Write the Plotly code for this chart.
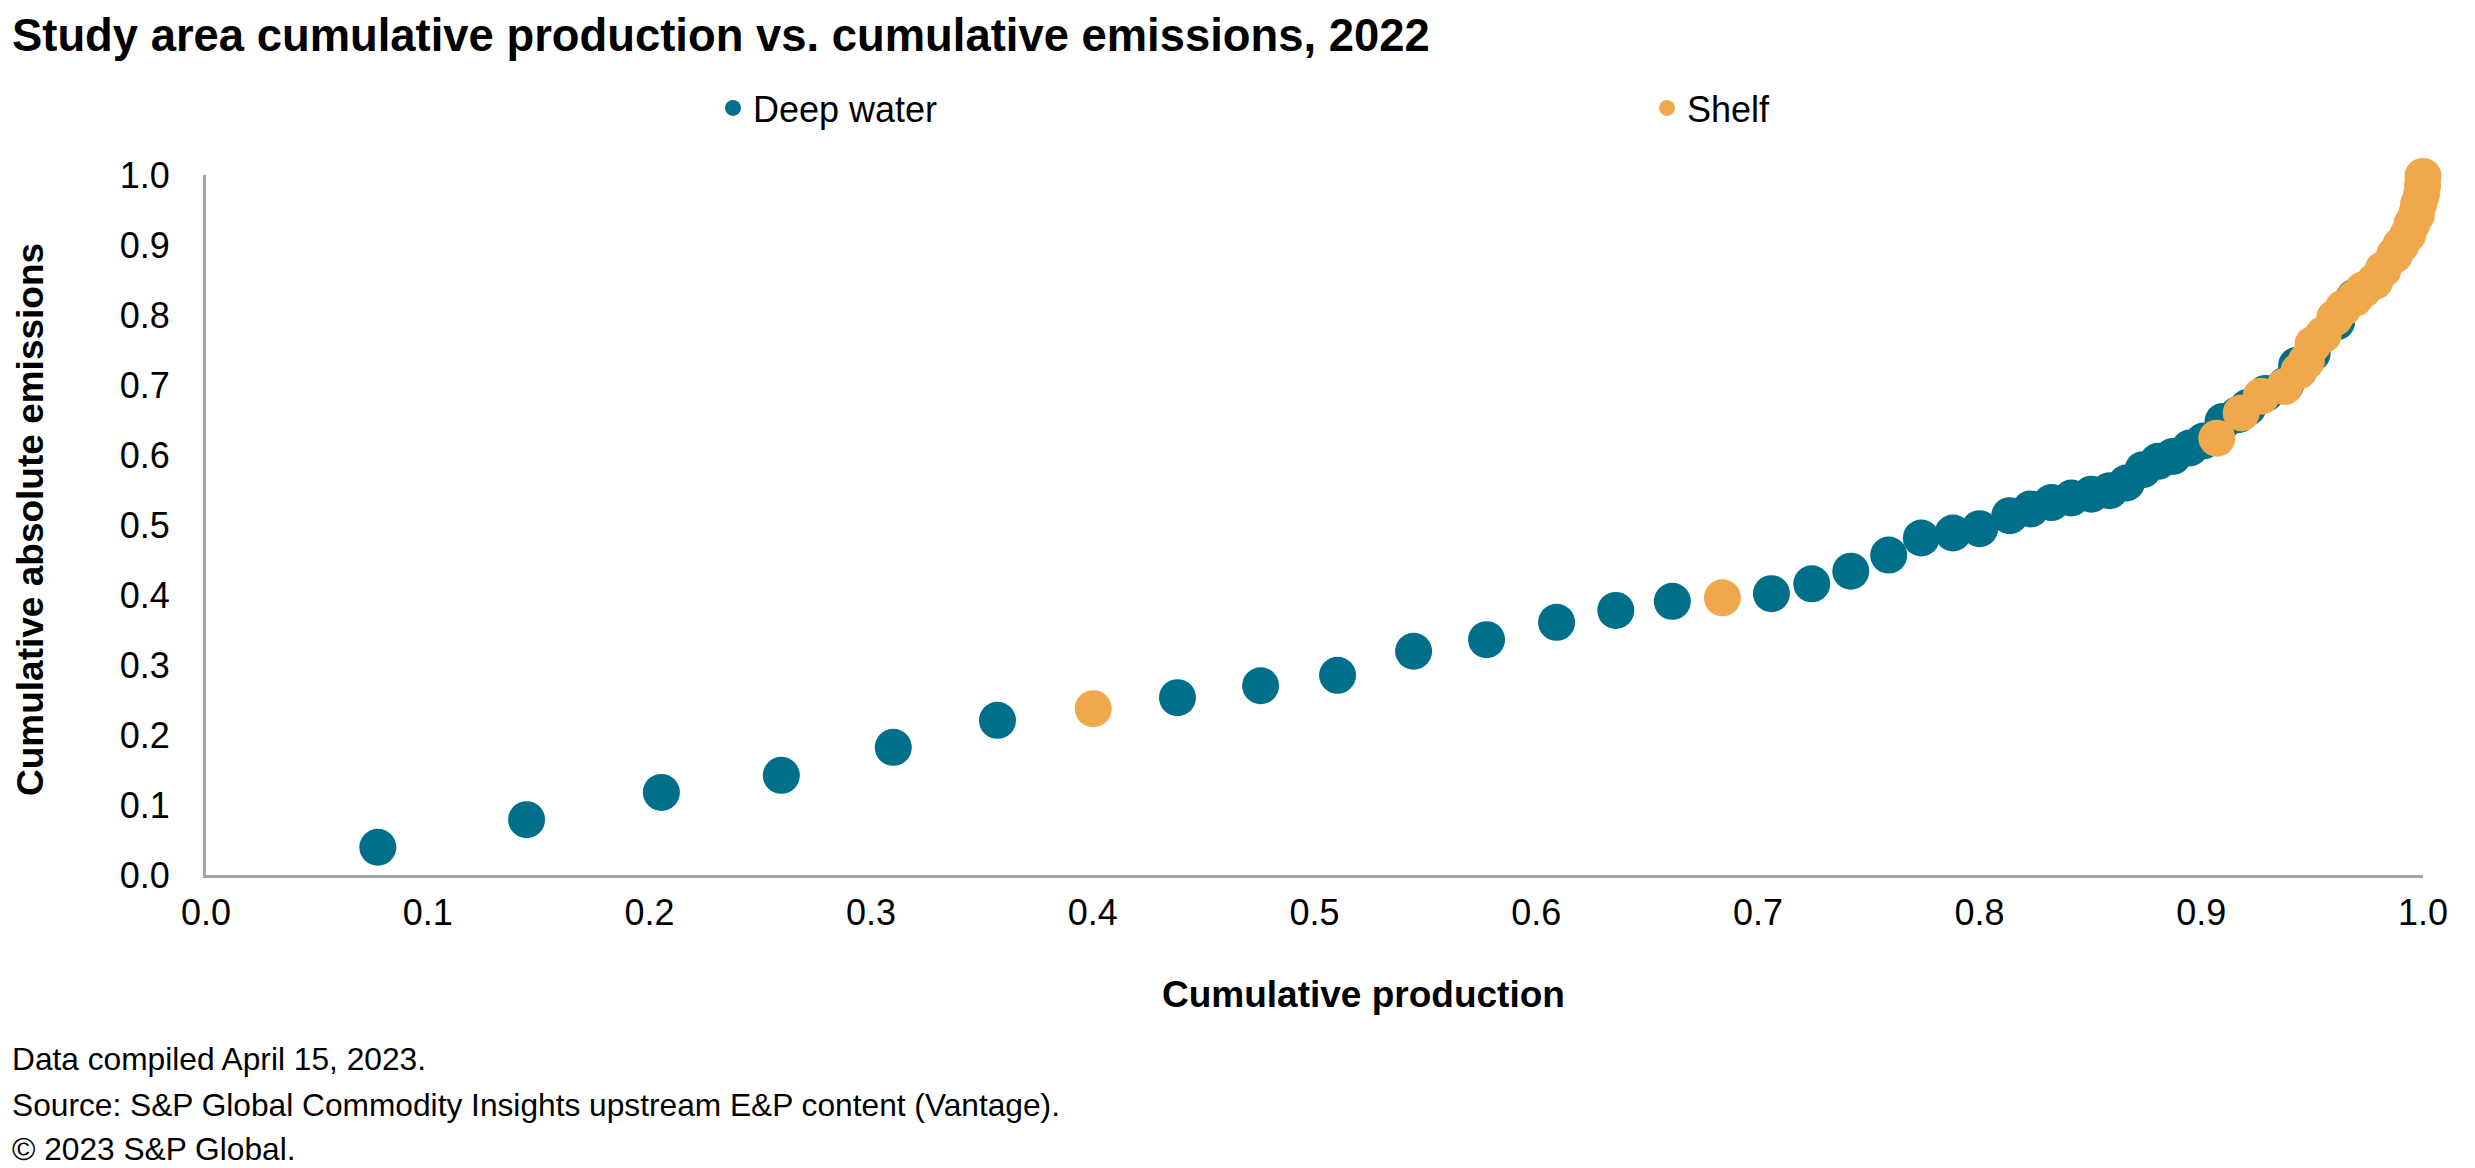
import plotly.graph_objects as go

# ---------------- data ----------------
deep_x = [0.0775, 0.1446, 0.2054, 0.2595, 0.3100, 0.3570, 0.4382, 0.4757, 0.5104,
          0.5447, 0.5776, 0.6092, 0.6359, 0.6614, 0.7061, 0.7243, 0.7419, 0.7590,
          0.7737, 0.7880, 0.8000, 0.8136, 0.8230, 0.8324, 0.8414, 0.8504, 0.8587,
          0.8662, 0.8737, 0.8805, 0.8872, 0.8948, 0.9010, 0.9098, 0.9166, 0.9210,
          0.9290, 0.9380, 0.9430, 0.9500, 0.9610, 0.9690]
deep_y = [0.0396, 0.0790, 0.1180, 0.1424, 0.1824, 0.2210, 0.2533, 0.2704, 0.2853,
          0.3196, 0.3362, 0.3610, 0.3780, 0.3910, 0.4019, 0.4160, 0.4340, 0.4570,
          0.4814, 0.4886, 0.4948, 0.5133, 0.5230, 0.5320, 0.5386, 0.5440, 0.5490,
          0.5600, 0.5790, 0.5910, 0.5980, 0.6100, 0.6200, 0.6480, 0.6576, 0.6680,
          0.6880, 0.7000, 0.7280, 0.7450, 0.7900, 0.8250]

shelf_x = [0.4002, 0.6840, 0.9070, 0.9180, 0.9270, 0.9376, 0.9440, 0.9474, 0.9504,
           0.9550, 0.9602, 0.9640, 0.9692, 0.9730, 0.9782, 0.9820, 0.9872, 0.9900,
           0.9932, 0.9950, 0.9970, 0.9980, 0.9993, 0.9998, 1.0000]
shelf_y = [0.2376, 0.3960, 0.6240, 0.6600, 0.6840, 0.6980, 0.7200, 0.7340, 0.7580,
           0.7720, 0.7960, 0.8100, 0.8240, 0.8360, 0.8480, 0.8650, 0.8860, 0.9000,
           0.9150, 0.9300, 0.9430, 0.9580, 0.9720, 0.9850, 0.9980]

series_names = ["Deep water", "Shelf"]
tick_vals = [0.0, 0.1, 0.2, 0.3, 0.4, 0.5, 0.6, 0.7, 0.8, 0.9, 1.0]
tick_text = ["0.0", "0.1", "0.2", "0.3", "0.4", "0.5", "0.6", "0.7", "0.8", "0.9", "1.0"]

title_text = "Study area cumulative production vs. cumulative emissions, 2022"
x_title = "Cumulative production"
y_title = "Cumulative absolute emissions"
footer_lines = ["Data compiled April 15, 2023.",
                "Source: S&P Global Commodity Insights upstream E&P content (Vantage).",
                "\u00a9 2023 S&P Global."]

# ---------------- layout geometry ----------------
W, H = 2475, 1168
L, R, T, B = 198, 2415, 167, 867
TEAL = "#006F8A"
ORANGE = "#F0A84C"
AXIS_GRAY = "#A6A6A6"
FONT = "Liberation Sans, Arial, sans-serif"


def px(x):
    return (x - L) / (R - L)


def py(y):
    return (B - y) / (B - T)


fig = go.Figure()
fig.add_trace(go.Scatter(x=deep_x, y=deep_y, mode="markers", name=series_names[0],
                         marker=dict(size=37, color=TEAL, line=dict(width=0)),
                         cliponaxis=False, legend="legend"))
fig.add_trace(go.Scatter(x=shelf_x, y=shelf_y, mode="markers", name=series_names[1],
                         marker=dict(size=37, color=ORANGE, line=dict(width=0)),
                         cliponaxis=False, legend="legend2"))

axis_common = dict(range=[0, 1], tickvals=tick_vals, ticktext=tick_text,
                   showline=True, linecolor=AXIS_GRAY, linewidth=3,
                   showgrid=False, zeroline=False, ticks="",
                   tickfont=dict(size=36, color="black", family=FONT),
                   fixedrange=True)

legend_common = dict(orientation="h", xanchor="left", yanchor="middle", y=py(100),
                     font=dict(size=36, color="black", family=FONT),
                     bgcolor="rgba(0,0,0,0)", borderwidth=0, itemclick=False)

fig.update_layout(
    width=W, height=H,
    margin=dict(l=L, r=W - R, t=T, b=H - B, pad=0),
    paper_bgcolor="white", plot_bgcolor="white",
    font=dict(family=FONT, color="black"),
    xaxis=dict(**axis_common, ticklabelstandoff=4),
    yaxis=dict(**axis_common, ticklabelstandoff=26),
    showlegend=True,
    legend=dict(**legend_common, x=px(705)),
    legend2=dict(**legend_common, x=px(1639)),
)

annotations = [
    dict(text="<b>" + title_text + "</b>", x=px(2), y=py(28), xanchor="left", yanchor="middle",
         font=dict(size=45.4, color="black", family=FONT)),
    dict(text="<b>" + x_title + "</b>", x=px(1355), y=py(986), xanchor="center", yanchor="middle",
         font=dict(size=37, color="black", family=FONT)),
    dict(text="<b>" + y_title + "</b>", x=px(22), y=py(512), xanchor="center", yanchor="middle",
         textangle=-90, font=dict(size=37, color="black", family=FONT)),
]
for line, yc in zip(footer_lines, [1051, 1097, 1141]):
    annotations.append(dict(text=line, x=px(2), y=py(yc), xanchor="left", yanchor="middle",
                            font=dict(size=31.7, color="black", family=FONT)))
for a in annotations:
    a.update(xref="paper", yref="paper", showarrow=False)
fig.update_layout(annotations=annotations)

fig.write_html("out.html")
